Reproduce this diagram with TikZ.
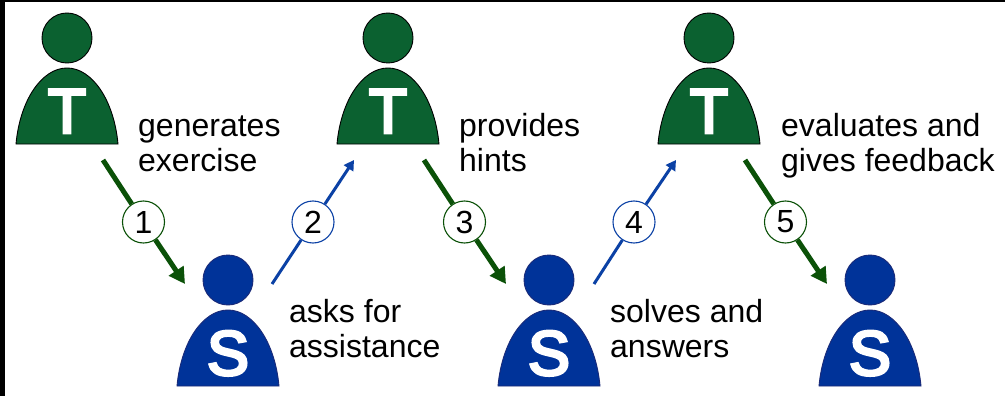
\documentclass[tikz,border=0pt]{standalone}
\usepackage{fontspec}
\setmainfont{Liberation Sans}
\newfontfamily\letterfont[FakeBold=4.5]{Liberation Sans}
\usetikzlibrary{arrows.meta}
\definecolor{tgreen}{HTML}{0B6130}
\definecolor{sblue}{HTML}{003399}
\definecolor{agreen}{HTML}{0B5108}
\definecolor{ablue}{HTML}{0B41A5}
\definecolor{sedge}{HTML}{1A2A78}
\newcommand{\capline}{\rule{0pt}{23pt}}
\tikzset{
  x=1pt,y=1pt,
  teacher/.style={fill=tgreen,draw=black,line width=0.9pt},
  student/.style={fill=sblue,draw=sedge,line width=0.9pt},
  headshape/.style={circle,inner sep=0pt,minimum size=50pt},
  letter/.style={text=white,font=\fontsize{63}{63}\selectfont\letterfont,inner sep=0pt,anchor=base},
  caption/.style={align=left,anchor=north west,inner sep=0pt,text=black,
    font=\fontsize{32}{35}\selectfont},
  numgreen/.style={circle,draw=agreen,fill=white,line width=1.1pt,minimum size=42pt,inner sep=0pt,
    font=\fontsize{32}{32}\selectfont},
  numblue/.style={circle,draw=ablue,fill=white,line width=1.1pt,minimum size=42pt,inner sep=0pt,
    font=\fontsize{32}{32}\selectfont},
  linegreen/.style={draw=agreen,line width=5pt},
  lineblue/.style={draw=ablue,line width=3pt},
  tipgreen/.style={linegreen,-{Triangle[length=16pt,width=17pt]}},
  tipblue/.style={lineblue,-{Triangle[length=10pt,width=11pt]}},
}
% name, centre x, base y, style, letter
\newcommand{\personfig}[5]{%
  \node[headshape,#4] (#1head) at (#2,#3+106) {};
  \path[#4] (#2-51,#3) .. controls (#2-47,#3+44) and (#2-25,#3+76) .. (#2,#3+76)
     .. controls (#2+25,#3+76) and (#2+47,#3+44) .. (#2+51,#3) -- cycle;
  \node[letter] (#1letter) at (#2,#3+11) {#5};
}
\begin{document}
\begin{tikzpicture}
\useasboundingbox (0,0) rectangle (1005,-396);
\fill[black] (0,0) rectangle (1005,-396);
\fill[white] (5,-2) rectangle (1005,-396);
% people
\personfig{ta}{67}{-144}{teacher}{T}
\personfig{tb}{388}{-144}{teacher}{T}
\personfig{tc}{709}{-144}{teacher}{T}
\personfig{sa}{228}{-386}{student}{S}
\personfig{sb}{549}{-386}{student}{S}
\personfig{sc}{870}{-386}{student}{S}
% captions
\node[caption] (c1) at (138,-113) {\capline generates\\exercise};
\node[caption] (c2) at (289,-299) {\capline asks for\\assistance};
\node[caption] (c3) at (459,-113) {\capline provides\\hints};
\node[caption] (c4) at (610,-299) {\capline solves and\\answers};
\node[caption] (c5) at (781,-113) {\capline evaluates and\\gives feedback};
% connector ends
\coordinate (a1) at (103,-160); \coordinate (b1) at (185,-284);
\coordinate (a2) at (272,-284); \coordinate (b2) at (354,-160);
\coordinate (a3) at (424,-160); \coordinate (b3) at (506,-284);
\coordinate (a4) at (594,-284); \coordinate (b4) at (676,-160);
\coordinate (a5) at (745,-160); \coordinate (b5) at (827,-284);
% number badges
\node[numgreen] (n1) at (143.5,-222) {1};
\node[numblue]  (n2) at (313,-222) {2};
\node[numgreen] (n3) at (464.5,-222) {3};
\node[numblue]  (n4) at (634,-222) {4};
\node[numgreen] (n5) at (785.5,-222) {5};
% connectors
\draw[linegreen] (a1) -- (n1); \draw[tipgreen] (n1) -- (b1);
\draw[lineblue] (a2) -- (n2); \draw[tipblue] (n2) -- (b2);
\draw[linegreen] (a3) -- (n3); \draw[tipgreen] (n3) -- (b3);
\draw[lineblue] (a4) -- (n4); \draw[tipblue] (n4) -- (b4);
\draw[linegreen] (a5) -- (n5); \draw[tipgreen] (n5) -- (b5);
\end{tikzpicture}
\end{document}
